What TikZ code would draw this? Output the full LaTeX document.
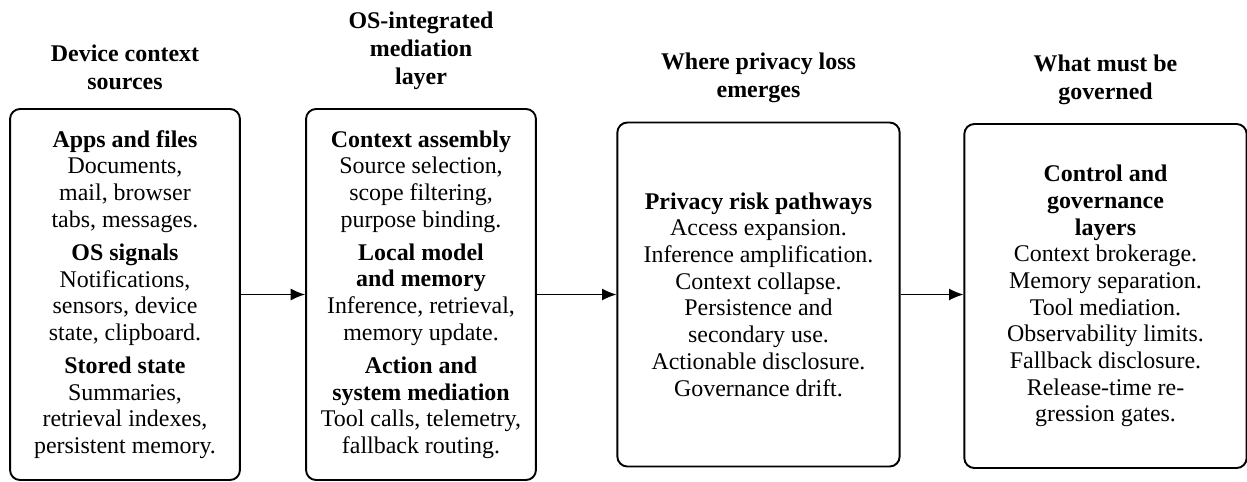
\documentclass[tikz,border=0pt]{standalone}
\usepackage{fontspec}
\setmainfont{Liberation Serif}
\usepackage{tikz}
\usetikzlibrary{arrows.meta,positioning}

\begin{document}
\begin{tikzpicture}[
  x=0.418pt, y=0.418pt,
  stage/.style={draw=black, line width=0.8pt, rounded corners=4.2pt, align=center, inner sep=0pt, font=\fontsize{10}{11.15}\selectfont},
  widestage/.style={stage, minimum width=96.1pt, minimum height=155.1pt},
  riskstage/.style={stage, minimum width=118pt, minimum height=143.8pt},
  stagehead/.style={align=center, inner sep=0pt, font=\bfseries\fontsize{10}{11.7}\selectfont},
  flow/.style={-{Latex[length=6pt,width=5pt]}, line width=0.5pt}
]
  \useasboundingbox (0,0) rectangle (1247,-481);
  % the four stages
  \node[widestage] (sources) at (125,-294.5) {%
    \textbf{Apps and files}\\Documents,\\mail, browser\\tabs, messages.\\[2.7pt]
    \textbf{OS signals}\\Notifications,\\sensors, device\\state, clipboard.\\[2.7pt]
    \textbf{Stored state}\\Summaries,\\retrieval indexes,\\persistent memory.};
  \node[widestage] (mediation) at (421,-294.5) {%
    \textbf{Context assembly}\\Source selection,\\scope filtering,\\purpose binding.\\[2.7pt]
    \textbf{Local model}\\\textbf{and memory}\\Inference, retrieval,\\memory update.\\[2.7pt]
    \textbf{Action and}\\\textbf{system mediation}\\Tool calls, telemetry,\\fallback routing.};
  \node[riskstage] (risks) at (758.5,-294.5) {%
    \textbf{Privacy risk pathways}\\Access expansion.\\Inference amplification.\\Context collapse.\\Persistence and\\secondary use.\\Actionable disclosure.\\Governance drift.};
  \node[riskstage] (controls) at (1105.5,-296) {%
    \textbf{Control and}\\\textbf{governance}\\\textbf{layers}\\Context brokerage.\\Memory separation.\\Tool mediation.\\Observability limits.\\Fallback disclosure.\\Release-time re-\\gression gates.};
  % column headings
  \node[stagehead, above=7.5pt of sources] (sourceshead) {Device context\\sources};
  \node[stagehead, above=7.5pt of mediation] (mediationhead) {OS-integrated\\mediation\\layer};
  \node[stagehead, above=7.5pt of risks] (riskshead) {Where privacy loss\\emerges};
  \node[stagehead, above=7.5pt of controls.north] (controlshead) {What must be\\governed};
  % flow between stages
  \foreach \from/\to in {sources/mediation, mediation/risks}
    \draw[flow] (\from) -- (\to);
  \draw[flow] (risks) -- (risks -| controls.west);
\end{tikzpicture}
\end{document}
